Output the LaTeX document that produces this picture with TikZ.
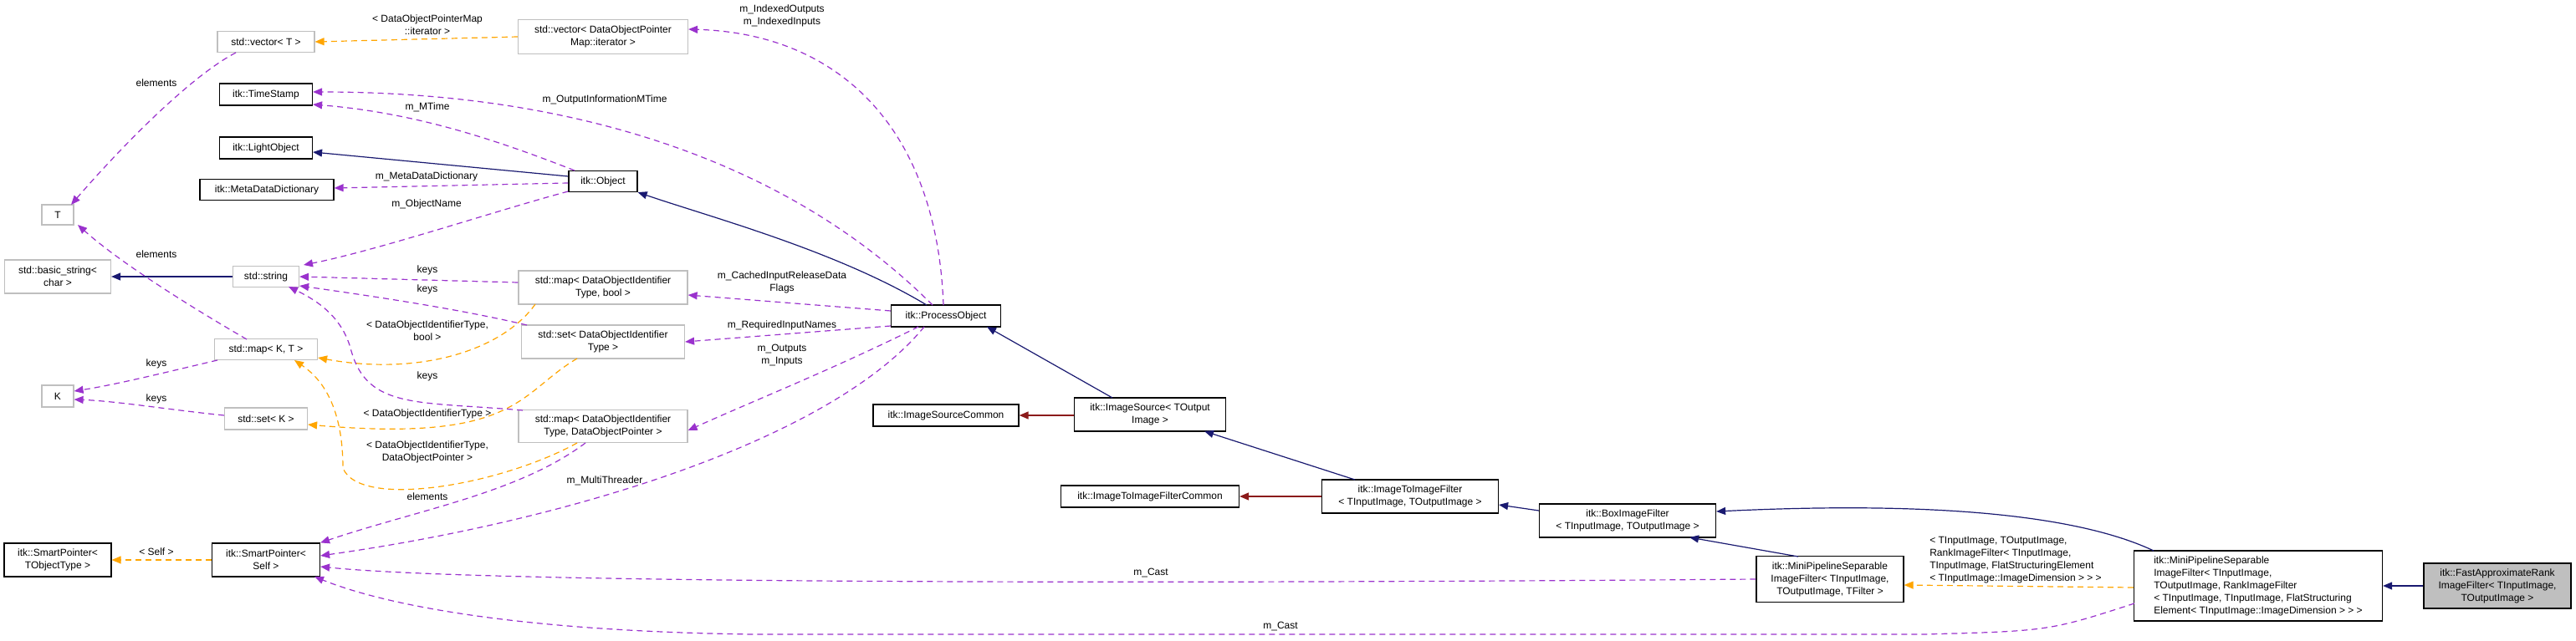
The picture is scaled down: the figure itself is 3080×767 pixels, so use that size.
\documentclass[tikz,border=0pt]{standalone}
\usepackage{fontspec}
\setmainfont{Liberation Sans}
\usetikzlibrary{arrows.meta}
\definecolor{navy}{HTML}{191970}
\definecolor{dred}{HTML}{8B1A1A}
\definecolor{purp}{HTML}{9A32CD}
\definecolor{orng}{HTML}{FFA500}
\definecolor{gbord}{HTML}{BFBFBF}
\tikzset{
  base/.style={draw, inner sep=0pt, align=center, font=\fontsize{12}{15}\selectfont, line width=1.2pt},
  doc/.style={base, draw=black},
  und/.style={base, draw=gbord},
  tip/.style={-{Triangle[length=11pt,width=9pt]}},
  inh/.style={tip, draw=navy, line width=1.2pt},
  priv/.style={tip, draw=dred, line width=1.2pt},
  use/.style={tip, draw=purp, dash pattern=on 7pt off 5pt, line width=1.2pt},
  tmpl/.style={tip, draw=orng, dash pattern=on 7pt off 5pt, line width=1.2pt},
  lbl/.style={align=center, font=\fontsize{12}{15}\selectfont, inner sep=0pt},
}
\begin{document}
\begin{tikzpicture}[x=1pt,y=-1pt]
\useasboundingbox (0,0) rectangle (3080,767);
% nodes
\node[und, minimum width=38, minimum height=24] (T) at (69,257) {T};
\node[und, minimum width=127, minimum height=40] (bs) at (69,331) {std::basic\_string<\\char >};
\node[und, minimum width=38, minimum height=26] (K) at (69,474) {K};
\node[doc, minimum width=128, minimum height=40] (spt) at (69,670) {itk::SmartPointer<\\TObjectType >};
\node[und, minimum width=116, minimum height=25] (vt) at (318,50) {std::vector< T >};
\node[doc, minimum width=111, minimum height=26] (ts) at (318,113) {itk::TimeStamp};
\node[doc, minimum width=111, minimum height=26] (lo) at (318,177) {itk::LightObject};
\node[doc, minimum width=160, minimum height=25] (mdd) at (319,227) {itk::MetaDataDictionary};
\node[und, minimum width=79, minimum height=25] (str) at (318,331) {std::string};
\node[und, minimum width=123, minimum height=25] (mkt) at (318,418) {std::map< K, T >};
\node[und, minimum width=99, minimum height=26] (sk) at (318,501) {std::set< K >};
\node[doc, minimum width=129, minimum height=40] (sps) at (318,670) {itk::SmartPointer<\\Self >};
\node[und, minimum width=203, minimum height=41] (vdop) at (721,44) {std::vector< DataObjectPointer\\Map::iterator >};
\node[doc, minimum width=82, minimum height=25] (obj) at (721,217) {itk::Object};
\node[und, minimum width=202, minimum height=40] (mb) at (721,344) {std::map< DataObjectIdentifier\\Type, bool >};
\node[und, minimum width=195, minimum height=40] (sd) at (721,409) {std::set< DataObjectIdentifier\\Type >};
\node[und, minimum width=202, minimum height=39] (md) at (721,510) {std::map< DataObjectIdentifier\\Type, DataObjectPointer >};
\node[doc, minimum width=131, minimum height=26] (po) at (1131,378) {itk::ProcessObject};
\node[doc, minimum width=174, minimum height=26] (isc) at (1131,497) {itk::ImageSourceCommon};
\node[doc, minimum width=181, minimum height=40] (is) at (1375,496) {itk::ImageSource< TOutput\\Image >};
\node[doc, minimum width=213, minimum height=26] (itifc) at (1375,594) {itk::ImageToImageFilterCommon};
\node[doc, minimum width=211, minimum height=40] (itif) at (1686,594) {itk::ImageToImageFilter\\< TInputImage, TOutputImage >};
\node[doc, minimum width=211, minimum height=40] (box) at (1946,623) {itk::BoxImageFilter\\< TInputImage, TOutputImage >};
\node[doc, minimum width=176, minimum height=55] (mp1) at (2188,693) {itk::MiniPipelineSeparable\\ImageFilter< TInputImage,\\ TOutputImage, TFilter >};
\node[doc, minimum width=297, minimum height=84, align=left] (mp2) at (2700,701) {itk::MiniPipelineSeparable\\ImageFilter< TInputImage,\\ TOutputImage, RankImageFilter\\< TInputImage, TInputImage, FlatStructuring\\Element< TInputImage::ImageDimension > > >};
\node[doc, fill=gbord, minimum width=176, minimum height=54] (fast) at (2986,701) {itk::FastApproximateRank\\ImageFilter< TInputImage,\\ TOutputImage >};
% inheritance
\draw[inh] (str.west) -- (bs.east);
\draw[inh] (obj.west |- 0,211) -- (lo.east |- 0,182);
\draw[inh] (1108,365) .. controls (1000,300) and (850,260) .. (obj.south east);
\draw[inh] (1330,476) -- (1180,391);
\draw[inh] (1620,574) -- (1440,516);
\draw[inh] (box.west |- 0,611) -- (itif.east |- 0,604);
\draw[inh] (2150,666) -- (2020,643);
\draw[inh] (2575,659) .. controls (2450,600) and (2200,605) .. (box.east |- 0,612);
\draw[inh] (fast.west) -- (mp2.east);
\draw[priv] (is.west |- 0,497) -- (isc.east |- 0,497);
\draw[priv] (itif.west) -- (itifc.east);
% template
\draw[tmpl] (vdop.west) -- (vt.east);
\node[lbl] at (511,30) {< DataObjectPointerMap\\::iterator >};
\draw[tmpl] (640,364) .. controls (600,420) and (500,450) .. (mkt.east |- 0,428);
\node[lbl] at (511,396) {< DataObjectIdentifierType,\\bool >};
\draw[tmpl] (690,429) .. controls (620,470) and (620,530) .. (sk.east |- 0,508);
\node[lbl] at (511,495) {< DataObjectIdentifierType >};
\draw[tmpl] (690,530) .. controls (600,580) and (430,610) .. (410,560) .. controls (410,480) and (380,450) .. (352,431);
\node[lbl] at (511,541) {< DataObjectIdentifierType,\\DataObjectPointer >};
\draw[tmpl] (sps.west) -- (spt.east);
\node[lbl] at (187,660) {< Self >};
\draw[tmpl] (mp2.west |- 0,703) -- (mp1.east |- 0,700);
\node[lbl, align=left] at (2410,670) {< TInputImage, TOutputImage,\\RankImageFilter< TInputImage,\\TInputImage, FlatStructuringElement\\< TInputImage::ImageDimension > > >};
% usage
\draw[use] (282,63) .. controls (230,90) and (150,170) .. (85,245);
\node[lbl] at (187,99) {elements};
\draw[use] (295,406) .. controls (250,380) and (150,320) .. (93,269);
\node[lbl] at (187,304) {elements};
\draw[use] (260,431) .. controls (200,445) and (140,460) .. (K.east |- 0,468);
\node[lbl] at (187,435) {keys};
\draw[use] (sk.west |- 0,497) .. controls (200,490) and (140,480) .. (K.east |- 0,478);
\node[lbl] at (187,477) {keys};
\draw[use] (687,204) .. controls (600,170) and (500,135) .. (ts.east |- 0,125);
\node[lbl] at (511,128) {m\_MTime};
\draw[use] (obj.west |- 0,219) -- (mdd.east |- 0,225);
\node[lbl] at (510,211) {m\_MetaDataDictionary};
\draw[use] (obj.west |- 0,229) .. controls (600,250) and (450,300) .. (363,317);
\node[lbl] at (510,244) {m\_ObjectName};
\draw[use] (1115,365) .. controls (950,200) and (700,110) .. (ts.east |- 0,110);
\node[lbl] at (723,119) {m\_OutputInformationMTime};
\draw[use] (1128,365) .. controls (1120,150) and (1000,40) .. (vdop.east |- 0,35);
\node[lbl] at (935,19) {m\_IndexedOutputs\\m\_IndexedInputs};
\draw[use] (po.west |- 0,372) -- (mb.east |- 0,353);
\node[lbl] at (935,338) {m\_CachedInputReleaseData\\Flags};
\draw[use] (po.west |- 0,390) -- (sd.east |- 0,409);
\node[lbl] at (935,389) {m\_RequiredInputNames};
\draw[use] (1098,391) .. controls (1000,440) and (900,480) .. (md.east |- 0,515);
\node[lbl] at (935,425) {m\_Outputs\\m\_Inputs};
\draw[use] (1105,391) .. controls (1000,520) and (700,620) .. (sps.east |- 0,665);
\node[lbl] at (723,575) {m\_MultiThreader};
\draw[use] (mb.west |- 0,338) -- (str.east |- 0,331);
\node[lbl] at (511,323) {keys};
\draw[use] (630,389) .. controls (550,370) and (450,355) .. (str.east |- 0,342);
\node[lbl] at (511,346) {keys};
\draw[use] (625,491) .. controls (500,480) and (440,490) .. (420,420) .. controls (410,380) and (380,360) .. (345,343);
\node[lbl] at (511,450) {keys};
\draw[use] (700,530) .. controls (620,590) and (500,610) .. (sps.north east);
\node[lbl] at (511,594) {elements};
\draw[use] (mp1.west |- 0,693) .. controls (1500,698) and (600,700) .. (sps.east |- 0,678);
\node[lbl] at (1376,685) {m\_Cast};
\draw[use] (2552,722) .. controls (2450,755) .. (2300,759) -- (900,759) .. controls (600,755) and (450,720) .. (376,690);
\node[lbl] at (1531,749) {m\_Cast};
\end{tikzpicture}
\end{document}
